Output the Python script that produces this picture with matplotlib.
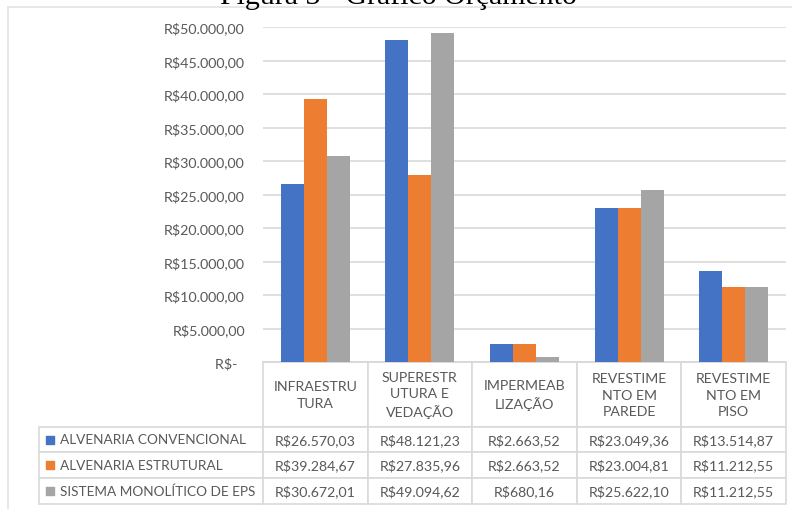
import numpy as np
import matplotlib.pyplot as plt
from matplotlib.patches import Rectangle

# dados do gráfico (valores em R$)
categorias = ['INFRAESTRU\nTURA', 'SUPERESTR\nUTURA E\nVEDAÇÃO', 'IMPERMEAB\nLIZAÇÃO',
              'REVESTIME\nNTO EM\nPAREDE', 'REVESTIME\nNTO EM\nPISO']
series = ['ALVENARIA CONVENCIONAL', 'ALVENARIA ESTRUTURAL', 'SISTEMA MONOLÍTICO DE EPS']
convencional = [26570.03, 48121.23, 2663.52, 23049.36, 13514.87]
estrutural = [39284.67, 27835.96, 2663.52, 23004.81, 11212.55]
monolitico = [30672.01, 49094.62, 680.16, 25622.10, 11212.55]
yticks = [0, 5000, 10000, 15000, 20000, 25000, 30000, 35000, 40000, 45000, 50000]

cores = ['#4472c4', '#ed7d31', '#a5a5a5']
cinza = '#595959'
linha = '#d9d9d9'
fonte = 'Lato'


def brl(v):
    if v == 0:
        return 'R$-  '
    s = f'{v:,.2f}'
    return 'R$' + s.replace(',', 'X').replace('.', ',').replace('X', '.')


fig = plt.figure(figsize=(7.92, 5.10), dpi=100)
fig.patch.set_facecolor('white')

# borda da área do gráfico
fig.patches.append(Rectangle((8 / 792, -0.1), 1.1, 1.1 - 8 / 510, transform=fig.transFigure,
                             facecolor='none', edgecolor='#e3e3e3', lw=1.2))

# título da figura (cortado no topo, como no original)
fig.text(398 / 792, 1 - 3.5 / 510, 'Figura 3 - Gráfico Orçamento', ha='center', va='baseline',
         family='Liberation Serif', fontsize=21.5, color='black')

ax = fig.add_axes([263 / 792, 1 - 363 / 510, 523 / 792, 335 / 510])

x = np.arange(len(categorias))
w = 0.22
for i, vals in enumerate([convencional, estrutural, monolitico]):
    ax.bar(x + (i - 1) * w, vals, w, color=cores[i], zorder=3)

ax.set_xlim(-0.5, len(categorias) - 0.5)
ax.set_ylim(0, 50000)
ax.set_yticks(yticks)
ax.set_yticklabels([brl(v) for v in yticks], family=fonte, fontsize=10.3, color=cinza)
ax.tick_params(axis='y', length=0, pad=13)
ax.set_xticks([])
ax.grid(axis='y', color=linha, lw=1.2, zorder=0)
for s in ['top', 'right', 'left']:
    ax.spines[s].set_visible(False)
ax.spines['bottom'].set_color(linha)
ax.spines['bottom'].set_linewidth(1.2)

# tabela de dados abaixo do eixo
linhas = [[''] + categorias]
for nome, vals in zip(series, [convencional, estrutural, monolitico]):
    linhas.append(['      ' + nome] + [brl(v) for v in vals])

larg = [224 / 523] + [104.6 / 523] * len(categorias)
tbl = ax.table(cellText=linhas, colWidths=larg, cellLoc='center',
               bbox=[-224 / 523, -142 / 335, 747 / 523, 142 / 335])
tbl.auto_set_font_size(False)
alturas = [65, 25, 26, 26]
for (r, c), cell in tbl.get_celld().items():
    cell.set_edgecolor(linha)
    cell.set_linewidth(1.2)
    cell.set_height(alturas[r])
    t = cell.get_text()
    t.set_fontsize(10.2)
    t.set_color(cinza)
    t.set_family(fonte)
    t.set_linespacing(1.45)
    if c == 0 and r > 0:
        t.set_horizontalalignment('left')
        t.set_fontsize(9.8)
        cell.PAD = 0.0
tbl[0, 0].visible_edges = ''

fig.canvas.draw()
for r in range(1, 4):
    cell = tbl[r, 0]
    ax.scatter(cell.get_x() + 11 / 523, cell.get_y() + cell.get_height() / 2, marker='s', s=40,
               color=cores[r - 1], transform=ax.transAxes, clip_on=False, zorder=5)

fig.savefig('out.png', dpi=100)
